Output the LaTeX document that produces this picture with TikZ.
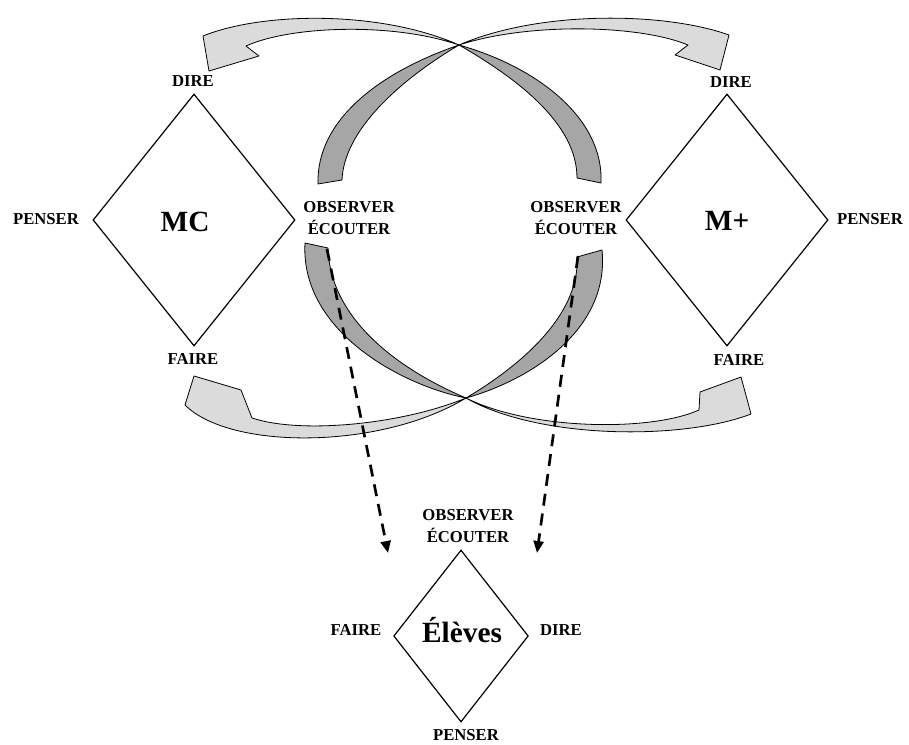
\documentclass[tikz,border=0pt]{standalone}
\usepackage{fontspec}
\setmainfont{Liberation Serif}
\usetikzlibrary{shapes.geometric,arrows.meta}
\begin{document}
\begin{tikzpicture}[x=0.75pt,y=-0.75pt,
  lbl/.style={font=\fontsize{12.5}{16}\selectfont\bfseries, inner sep=0pt, align=center},
  big/.style={font=\fontsize{22}{24}\selectfont\bfseries, inner sep=0pt},
  dia/.style={draw, diamond, line width=0.9pt, inner sep=0pt},
  darkband/.style={draw=black, line width=0.6pt, fill=black!35, line join=round},
  lightband/.style={draw=black, line width=0.6pt, fill=black!14, line join=round},
  dashedarrow/.style={line width=2pt, dash pattern=on 9pt off 6pt, -{Triangle[length=9pt,width=7.5pt]}}
]
\useasboundingbox (0,0) rectangle (909,745);

% diamonds
\node[dia, minimum width=151.5pt, minimum height=189pt] (mc) at (194,220) {};
\node[dia, minimum width=151.5pt, minimum height=189pt] (mp) at (727,220) {};
\node[dia, minimum width=101pt, minimum height=129pt] (el) at (461,636) {};

% central texts
\node[big] (mct) at (185,222) {MC};
\node[big] (mpt) at (727,221) {M+};
\node[big] (elt) at (462,630) {Élèves};

% labels MC
\node[lbl] (mcd) at (193,81) {DIRE};
\node[lbl] (mcp) at (46,219) {PENSER};
\node[lbl] (mcf) at (193,359) {FAIRE};
\node[lbl] (mco) at (349,218) {OBSERVER\\ÉCOUTER};
% labels M+
\node[lbl] (mpd) at (731,82) {DIRE};
\node[lbl] (mpp) at (870,219) {PENSER};
\node[lbl] (mpf) at (739,360) {FAIRE};
\node[lbl] (mpo) at (576,218) {OBSERVER\\ÉCOUTER};
% labels Eleves
\node[lbl] (elo) at (468,526) {OBSERVER\\ÉCOUTER};
\node[lbl] (elf) at (356,630) {FAIRE};
\node[lbl] (eld) at (561,630) {DIRE};
\node[lbl] (elp) at (466,735) {PENSER};

% top curved arrows (light parts, towards heads)
\draw[lightband] (459,45) .. controls (380,10) and (262,12) .. (203,36)
  -- (209,71) -- (259,56) -- (246,46)
  .. controls (290,26) and (392,22) .. (459,45) -- cycle;
\draw[lightband] (459,45) .. controls (540,10) and (665,12) .. (729,35)
  -- (720,70) -- (675,55) -- (688,45)
  .. controls (640,25) and (530,22) .. (459,45) -- cycle;
% top curved arrows (dark tails)
\draw[darkband] (318,184) .. controls (316,120) and (380,72) .. (459,45)
  .. controls (400,80) and (344,130) .. (342,180) -- cycle;
\draw[darkband] (601,183) .. controls (604,120) and (540,68) .. (459,45)
  .. controls (520,80) and (577,125) .. (577,178) -- cycle;

% bottom curved arrows (light parts)
\draw[lightband] (466,398) .. controls (540,440) and (684,440) .. (751,414)
  -- (741,377) -- (700,392) -- (699,410)
  .. controls (650,432) and (530,430) .. (466,398) -- cycle;
\draw[lightband] (466,398) .. controls (400,425) and (300,434) .. (252,418)
  -- (241,390) -- (194,376) -- (185,405)
  .. controls (230,450) and (380,450) .. (466,398) -- cycle;
% bottom curved arrows (dark tails)
\draw[darkband] (305,243) .. controls (300,330) and (400,385) .. (466,398)
  .. controls (400,370) and (330,320) .. (328,248) -- cycle;
\draw[darkband] (602,250) .. controls (610,330) and (530,380) .. (466,398)
  .. controls (530,360) and (580,310) .. (577,257) -- cycle;

% dashed arrows
\coordinate (l0) at (327,249);
\coordinate (l1) at (388,553);
\coordinate (r0) at (578,256);
\coordinate (r1) at (537,553);
\draw[dashedarrow] (l0) -- (l1);
\draw[dashedarrow] (r0) -- (r1);
\end{tikzpicture}
\end{document}
